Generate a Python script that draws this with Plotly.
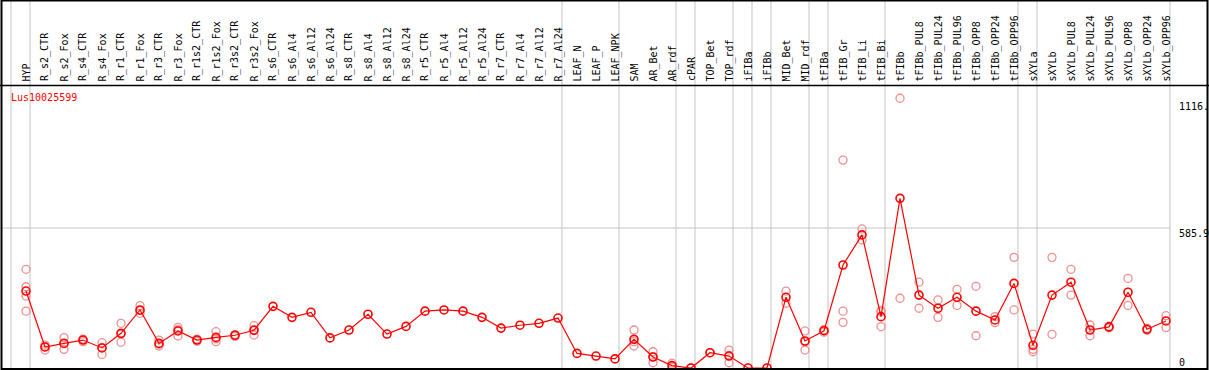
import plotly.graph_objects as go

categories = ["HYP", "R_s2_CTR", "R_s2_Fox", "R_s4_CTR", "R_s4_Fox", "R_r1_CTR", "R_r1_Fox",
              "R_r3_CTR", "R_r3_Fox", "R_r1s2_CTR", "R_r1s2_Fox", "R_r3s2_CTR", "R_r3s2_Fox",
              "R_s6_CTR", "R_s6_Al4", "R_s6_Al12", "R_s6_Al24", "R_s8_CTR", "R_s8_Al4",
              "R_s8_Al12", "R_s8_Al24", "R_r5_CTR", "R_r5_Al4", "R_r5_Al12", "R_r5_Al24",
              "R_r7_CTR", "R_r7_Al4", "R_r7_Al12", "R_r7_Al24", "LEAF_N", "LEAF_P", "LEAF_NPK",
              "SAM", "AR_Bet", "AR_rdf", "cPAR", "TOP_Bet", "TOP_rdf", "iFIBa", "iFIBb",
              "MID_Bet", "MID_rdf", "tFIBa", "tFIB_Gr", "tFIB_Li", "tFIB_Bi", "tFIBb",
              "tFIBb_PUL8", "tFIBb_PUL24", "tFIBb_PUL96", "tFIBb_OPP8", "tFIBb_OPP24",
              "tFIBb_OPP96", "sXYLa", "sXYLb", "sXYLb_PUL8", "sXYLb_PUL24", "sXYLb_PUL96",
              "sXYLb_OPP8", "sXYLb_OPP24", "sXYLb_OPP96"]

mean_values = [322, 88, 103, 117, 84, 145, 243, 103, 155, 117, 128, 137, 158,
               258, 212, 233, 126, 159, 225, 142, 174, 238, 243, 238, 212,
               167, 179, 187, 209, 61, 50, 38, 120, 46, 10, 0, 64, 50, 0, 0,
               296, 113, 156, 431, 557, 215, 710, 305, 250, 296, 238, 201, 354,
               95, 305, 359, 159, 172, 317, 162, 197]

replicate_values = [
    [413, 340, 301, 238], [96, 75, 88], [127, 78, 103], [121, 110, 117], [106, 57, 86],
    [187, 108, 142], [261, 229, 240], [117, 92, 100], [170, 134, 160], [121, 112, 118],
    [152, 110, 122], [140, 132, 138], [177, 138, 160],
    [], [], [], [], [], [], [], [], [], [], [], [], [], [], [], [],
    [], [], [], [159, 92, 110], [68, 22, 48], [20, 4], [0], [64], [75, 22, 53], [], [],
    [322, 271], [155, 75, 110], [160, 150], [870, 238, 191], [582, 536], [240, 235, 173],
    [1129, 292], [359, 250], [285, 212], [329, 262], [342, 135], [215, 190], [463, 243],
    [142, 78, 68], [463, 141], [413, 305], [180, 135], [175, 168], [375, 262], [166, 158],
    [219, 169],
]

group_ends = [-1, 0, 28, 31, 34, 35, 37, 38, 39, 41, 42, 45, 52, 53, 60]
gene_name = "Lus10025599"
tick_values = [1116, 585.9, 0]
tick_texts = ["1116.", "585.9", "0"]

W, H = 1209, 370
STEP, X0 = 19.0, 26.0
YZERO, YSCALE = 368.0, 4.185


def px2x(p):
    return (p - X0) / STEP


def px2y(p):
    return (YZERO - p) * YSCALE


xs = list(range(len(categories)))
rx, ry = [], []
for i, reps in enumerate(replicate_values):
    for v in reps:
        rx.append(i)
        ry.append(v)

fig = go.Figure()
fig.add_trace(go.Scatter(x=rx, y=ry, mode="markers",
                         marker=dict(symbol="circle-open", size=8, color="#ef8f8f",
                                     line=dict(width=1.3, color="#ef8f8f")),
                         hoverinfo="skip", showlegend=False))
fig.add_trace(go.Scatter(x=xs, y=mean_values, mode="lines+markers",
                         line=dict(color="#ff0000", width=1.2),
                         marker=dict(symbol="circle-open", size=8, color="#ff0000",
                                     line=dict(width=1.6, color="#ff0000")),
                         showlegend=False))

shapes = []
grid = "#c4c4c4"
for g in group_ends:
    gx = g + 0.21
    shapes.append(dict(type="line", xref="x", yref="paper", x0=gx, x1=gx, y0=0, y1=1,
                       line=dict(color=grid, width=1), layer="below"))
shapes.append(dict(type="line", xref="paper", yref="y", x0=0, x1=1170 / W,
                   y0=tick_values[1], y1=tick_values[1], line=dict(color=grid, width=1), layer="below"))
# frame and header separator
hdr = 1 - 85.5 / H
shapes.append(dict(type="line", xref="paper", yref="paper", x0=0, x1=1, y0=hdr, y1=hdr,
                   line=dict(color="black", width=1.5)))
shapes.append(dict(type="rect", xref="paper", yref="paper", x0=1.5 / W, x1=1 - 1.5 / W,
                   y0=1.0 / H, y1=1 - 0.5 / H,
                   line=dict(color="black", width=2)))

annotations = []
lab_y = 1 - 83.5 / H
for i, c in enumerate(categories):
    annotations.append(dict(x=i, y=lab_y, xref="x", yref="paper", text=c, textangle=-90,
                            showarrow=False, xanchor="center", yanchor="bottom",
                            font=dict(family="DejaVu Sans Mono", size=10, color="black")))
annotations.append(dict(x=px2x(9), y=1 - 97 / H, xref="x", yref="paper", text=gene_name,
                        showarrow=False, xanchor="left", yanchor="middle",
                        font=dict(family="DejaVu Sans Mono", size=10, color="#ff0000")))
label_px = [107, 233, 362]
for t, p in zip(tick_texts, label_px):
    annotations.append(dict(x=px2x(1177), y=1 - p / H, xref="x", yref="paper", text=t,
                            showarrow=False, xanchor="left", yanchor="middle",
                            font=dict(family="DejaVu Sans Mono", size=10, color="black")))

fig.update_layout(
    width=W, height=H, margin=dict(l=0, r=0, t=0, b=0),
    paper_bgcolor="white", plot_bgcolor="white",
    xaxis=dict(range=[px2x(0), px2x(W)], visible=False, fixedrange=True),
    yaxis=dict(range=[px2y(H), px2y(0)], visible=False, fixedrange=True),
    shapes=shapes, annotations=annotations, showlegend=False,
)
fig.write_html("out.html", config={"displayModeBar": False},
               post_script="document.body.style.margin='0';document.body.style.overflow='hidden';")
